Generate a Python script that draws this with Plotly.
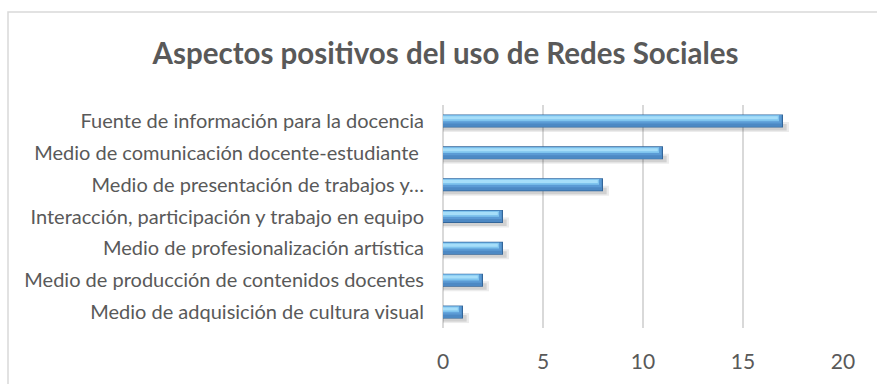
import plotly.graph_objects as go

# Survey results: positive aspects of social network use
categories = [
    "Fuente de información para la docencia",
    "Medio de comunicación docente-estudiante\u00a0",
    "Medio de presentación de trabajos y…",
    "Interacción, participación y trabajo en equipo",
    "Medio de profesionalización artística",
    "Medio de producción de contenidos docentes",
    "Medio de adquisición de cultura visual",
]
counts = [17, 11, 8, 3, 3, 2, 1]

title_text = "Aspectos positivos del uso de Redes Sociales"
x_ticks = [0, 5, 10, 15, 20]

TEXT = "#595959"
GRID = "#d9d9d9"

# Plot area geometry (pixels)
W, H = 877, 384
L, R, T, B = 443, 34, 105, 56
unit_px = (H - T - B) / len(categories)   # pixels per category slot

fig = go.Figure()


def add_layer(color, top_px, bottom_px, dx=0.0):
    """One horizontal band of the shaded bar, measured in px from the slot centre."""
    fig.add_trace(go.Bar(
        y=categories,
        x=[max(v + dx, 0) for v in counts],
        orientation="h",
        width=(bottom_px - top_px) / unit_px,
        offset=top_px / unit_px,
        marker=dict(color=color, line=dict(width=0)),
        hoverinfo="skip",
        showlegend=False,
    ))


# soft drop shadow
add_layer("rgba(70,70,70,0.10)", 1, 11, 0.30)
add_layer("rgba(70,70,70,0.16)", 3, 9.5, 0.18)
# bar body: dark rim, blue fill, light upper highlight
add_layer("#33669a", -6.5, 6.5)
add_layer("#5b9bd5", -5.9, 5.6, -0.06)
add_layer("#4d89c4", 2.5, 5.6, -0.06)
add_layer("#7fc4ee", -5.6, 0.2, -0.2)
add_layer("#a6def9", -4.6, -1.6, -0.26)

fig.update_layout(
    width=W,
    height=H,
    margin=dict(l=L, r=R, t=T, b=B),
    barmode="overlay",
    paper_bgcolor="white",
    plot_bgcolor="white",
    font=dict(family="Lato", color=TEXT, size=20),
    title=dict(
        text=f"<b>{title_text}</b>",
        font=dict(family="Lato", size=29.5, color=TEXT),
        x=0.508, xref="container", xanchor="center",
        y=1 - 54 / H, yref="container", yanchor="middle",
    ),
    xaxis=dict(
        range=[0, 20],
        tickvals=x_ticks,
        showgrid=True,
        gridcolor=GRID,
        gridwidth=1.5,
        zeroline=True,
        zerolinecolor=GRID,
        zerolinewidth=1.5,
        showline=False,
        ticks="",
        ticklabelstandoff=19,
        tickfont=dict(size=21, color=TEXT),
        fixedrange=True,
    ),
    yaxis=dict(
        type="category",
        autorange="reversed",
        showgrid=False,
        showline=False,
        zeroline=False,
        ticks="",
        ticklabelstandoff=18,
        tickfont=dict(size=20, color=TEXT),
        fixedrange=True,
    ),
    shapes=[
        dict(
            type="rect", xref="paper", yref="paper",
            x0=(8 - L) / (W - L - R), x1=(W + 5 - L) / (W - L - R),
            y0=-1, y1=1 + (T - 12) / (H - T - B),
            line=dict(color=GRID, width=1.5),
            fillcolor="rgba(0,0,0,0)",
            layer="below",
        )
    ],
)

fig.write_html("out.html")
